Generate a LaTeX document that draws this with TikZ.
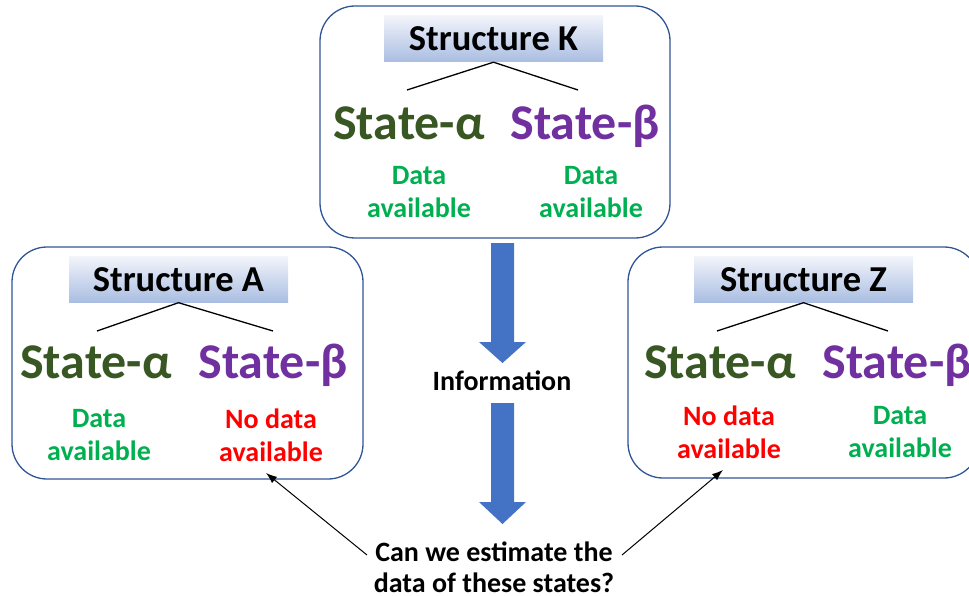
\documentclass[tikz,border=0pt]{standalone}
\usepackage{fontspec}
\setmainfont{Carlito}
\usetikzlibrary{arrows.meta}
\definecolor{boxblue}{HTML}{2F5597}
\definecolor{bandtop}{HTML}{F2F4FA}
\definecolor{bandbot}{HTML}{A9BDE2}
\definecolor{alphagreen}{HTML}{385723}
\definecolor{betapurple}{HTML}{7030A0}
\definecolor{okgreen}{HTML}{00B050}
\definecolor{nored}{HTML}{FF0000}
\definecolor{arrowblue}{HTML}{4472C4}
\begin{document}
\begin{tikzpicture}[x=1pt,y=-1pt,
  panel/.style={draw=boxblue, line width=1.3pt, rounded corners=35pt, inner sep=0pt},
  band/.style={top color=bandtop, bottom color=bandbot, minimum width=219pt, minimum height=46pt, inner sep=0pt, font=\fontsize{36.5}{40}\selectfont\bfseries},
  sa/.style={text=alphagreen, font=\fontsize{50}{60}\selectfont\bfseries, anchor=base, inner sep=0pt},
  sb/.style={text=betapurple, font=\fontsize{50}{60}\selectfont\bfseries, anchor=base, inner sep=0pt},
  avail/.style={text=okgreen, font=\fontsize{28}{33}\selectfont\bfseries, align=center, inner sep=0pt},
  noavail/.style={text=nored, font=\fontsize{28}{33}\selectfont\bfseries, align=center, inner sep=0pt},
  plain/.style={text=black, font=\fontsize{28}{31}\selectfont\bfseries, align=center, inner sep=0pt},
  tree/.style={line width=1.3pt},
  blockarrow/.style={fill=arrowblue},
  pointer/.style={-{Latex[length=11pt,width=8pt]}, line width=1pt}]
\useasboundingbox (0,0) rectangle (969,596);

% panels
\node[panel, minimum width=350pt, minimum height=232pt] (K) at (495,122) {};
\node[panel, minimum width=351pt, minimum height=232pt] (A) at (187.5,363) {};
\node[panel, minimum width=351pt, minimum height=231pt] (Z) at (803.5,362.5) {};

% structure K
\node[band] (tK) at (493.5,39) {Structure K};
\coordinate (kl) at (407,90);
\coordinate (kr) at (578,90);
\draw[tree] (kl) -- (tK.south) -- (kr);
\node[sa] (kA) at (409,140) {State-α};
\node[sb] (kB) at (585,140) {State-β};
\node[avail] (kAd) at (419,192) {Data\\available};
\node[avail] (kBd) at (591,192) {Data\\available};

% structure A
\node[band] (tA) at (178.5,279.5) {Structure A};
\coordinate (al) at (97,331);
\coordinate (ar) at (273,331);
\draw[tree] (al) -- (tA.south) -- (ar);
\node[sa] (aA) at (96,378) {State-α};
\node[sb] (aB) at (273,378) {State-β};
\node[avail] (aAd) at (99,435) {Data\\available};
\node[noavail] (aBd) at (271,435) {No data\\available};

% structure Z
\node[band] (tZ) at (803.5,279.5) {Structure Z};
\coordinate (zl) at (717,331);
\coordinate (zr) at (888,331);
\draw[tree] (zl) -- (tZ.south) -- (zr);
\node[sa] (zA) at (720,378) {State-α};
\node[sb] (zB) at (897,378) {State-β};
\node[noavail] (zAd) at (729,432) {No data\\available};
\node[avail] (zBd) at (900,432) {Data\\available};

% information flow
\node[plain, anchor=base] (info) at (502,390) {Information};
\fill[blockarrow] (491,243) -- (514,243) -- (514,342) -- (526,342) -- (502.5,363) -- (479,342) -- (491,342) -- cycle;
\fill[blockarrow] (491,403) -- (514,403) -- (514,502) -- (526,502) -- (502.5,524) -- (479,502) -- (491,502) -- cycle;

% question
\node[plain] (q) at (494,567) {Can we estimate the\\data of these states?};
\coordinate (qL) at (367,555);
\coordinate (qR) at (622,555);
\coordinate (tipA) at (266,473);
\coordinate (tipZ) at (723,470);
\draw[pointer] (qL) -- (tipA);
\draw[pointer] (qR) -- (tipZ);
\end{tikzpicture}
\end{document}
